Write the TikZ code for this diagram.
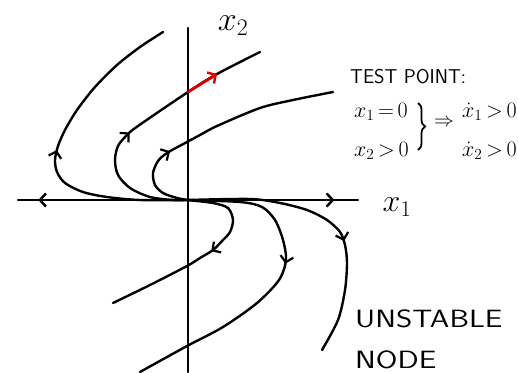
\RequirePackage{fix-cm}
\documentclass[tikz,border=0pt]{standalone}
\usetikzlibrary{arrows.meta,decorations.markings,decorations.pathreplacing}

\tikzset{
  traj/.style={line width=2.4pt, line cap=round},
  barb/.tip={Straight Barb[length=6pt,width=13pt,line width=2.2pt]},
  midarrow/.style={postaction={decorate},
    decoration={markings,mark=at position #1 with {\arrow{barb}}}},
  backarrow/.style={postaction={decorate},
    decoration={markings,mark=at position #1 with {\arrowreversed{barb}}}},
  lbl/.style={font=\sffamily\fontsize{20}{22}\selectfont, anchor=base west, inner sep=0pt},
  eqn/.style={font=\fontsize{22}{24}\selectfont, anchor=base west, inner sep=0pt},
}

\begin{document}
\begin{tikzpicture}[x=1pt,y=-1pt]
\useasboundingbox (0,0) rectangle (518,372);

% axes
\draw[traj,backarrow=0.06,midarrow=0.93] (18,200) -- (358,200);
\draw[traj] (188,28) -- (188,372);
\node[font=\fontsize{34}{36}\selectfont] (xtwo) at (233,26) {$x_2$};
\node[font=\fontsize{32}{34}\selectfont] (xone) at (397,207) {$x_1$};

% trajectories above
\draw[traj,smooth,midarrow=0.5] plot coordinates {(188,200) (140,200) (107,197) (83,192) (65,183) (57,172) (55,160) (58,146) (65,130) (77,110) (95,87) (117,65) (140,47) (163,32)};
\draw[traj,smooth,midarrow=0.45] plot coordinates {(188,200) (173,200) (150,197) (130,188) (118,175) (115,160) (118,146) (127,135) (138,126) (188,92) (217,74) (260,52)};
\draw[traj,smooth,midarrow=0.31] plot coordinates {(188,200) (177,198) (163,193) (155,185) (153,173) (158,161) (167,153) (187,142) (200,135) (217,126) (260,108) (293,100) (333,92)};

% trajectories below
\draw[traj,smooth,midarrow=0.46] plot coordinates {(187,200) (213,203) (228,208) (233,220) (230,232) (223,240) (213,250) (200,258) (187,266) (150,285) (113,303)};
\draw[traj,smooth,midarrow=0.43] plot coordinates {(187,200) (240,202) (262,207) (275,220) (283,240) (286,260) (279,280) (257,303) (223,327) (187,346) (140,372)};
\draw[traj,smooth,midarrow=0.6] plot coordinates {(187,200) (250,199) (280,203) (307,210) (327,220) (340,232) (345,245) (347,263) (345,290) (338,320) (322,350)};

% test point direction
\draw[traj,red!85!black,line width=2.8pt,-{Straight Barb[length=6pt,width=13pt,line width=2.4pt]}] (188,92) -- (217,74);

% test point
\node[lbl] (test) at (350,83) {TEST POINT:};
\node[eqn] (eqa) at (354,117) {$x_1\,{=}\,0$};
\node[eqn] (eqb) at (354,156) {$x_2\,{>}\,0$};
\draw[line width=1.8pt,decorate,decoration={brace,amplitude=7pt}] (418,103) -- (418,150);
\node[font=\fontsize{20}{22}\selectfont] (implies) at (444,123) {$\Rightarrow$};
\node[eqn] (dota) at (462,117) {$\dot{x}_1\,{>}\,0$};
\node[eqn] (dotb) at (462,156) {$\dot{x}_2\,{>}\,0$};

\node[lbl,font=\sffamily\fontsize{25}{28}\selectfont] (unstable) at (355,327) {\scalebox{1.25}[1]{UNSTABLE}};
\node[lbl,font=\sffamily\fontsize{25}{28}\selectfont] (nodelbl) at (355,368) {\scalebox{1.25}[1]{NODE}};
\end{tikzpicture}
\end{document}
